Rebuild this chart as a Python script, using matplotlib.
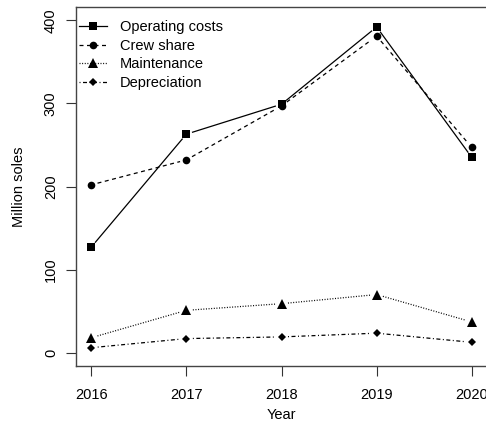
import matplotlib
matplotlib.use("Agg")
import matplotlib.pyplot as plt
import numpy as np
from matplotlib.lines import Line2D

# cost components per year, million soles
years = [2016, 2017, 2018, 2019, 2020]
operating_costs = [127, 263, 299, 392, 235]
crew_share = [202, 232, 297, 381, 247]
maintenance = [18, 51, 59, 70, 37]
depreciation = [6, 17, 19, 23.5, 12.5]

series_names = ["Operating costs", "Crew share", "Maintenance", "Depreciation"]
series_values = [operating_costs, crew_share, maintenance, depreciation]

plt.rcParams["font.family"] = ["Liberation Sans", "DejaVu Sans"]

styles = [
    dict(marker="s", ms=5.5, dashes=None),
    dict(marker="o", ms=5.5, dashes=(3.2, 2.8)),
    dict(marker="^", ms=6.5, dashes=(0.8, 1.3)),
    dict(marker="D", ms=3.8, dashes=(0.8, 2.0, 3.2, 2.0)),
]

fig = plt.figure(figsize=(4.86, 4.22), dpi=100)
ax = fig.add_axes([76 / 486, 56 / 422, 411 / 486, 359 / 422])
ax.set_xlim(2015.84, 2020.16)
ax.set_ylim(-16, 416)


def gapped_segments(x, y, gap=6.5):
    """Segments between points, trimmed near each point (like R type='b')."""
    pts = ax.transData.transform(np.column_stack([x, y]))
    segs = []
    for p, q in zip(pts[:-1], pts[1:]):
        d = q - p
        n = np.hypot(*d)
        if n <= 2 * gap:
            continue
        u = d / n
        a = ax.transData.inverted().transform(p + u * gap)
        b = ax.transData.inverted().transform(q - u * gap)
        segs.append((a, b))
    return segs


handles = []
for name, vals, st in zip(series_names, series_values, styles):
    for a, b in gapped_segments(years, vals):
        ln, = ax.plot([a[0], b[0]], [a[1], b[1]], color="black", lw=0.9)
        if st["dashes"]:
            ln.set_dashes(st["dashes"])
    ax.plot(years, vals, linestyle="none", marker=st["marker"], ms=st["ms"],
            color="black", mec="black", mew=0)
    h = Line2D([], [], color="black", lw=0.9, marker=st["marker"],
               ms=st["ms"], mew=0)
    if st["dashes"]:
        h.set_dashes(st["dashes"])
    handles.append(h)

ax.legend(handles, series_names, loc="upper left", frameon=False,
          fontsize=10.5, handlelength=1.9, handletextpad=0.9,
          labelspacing=0.32, borderaxespad=0.0,
          bbox_to_anchor=(-0.006, 0.98))

ax.set_xticks(years)
ax.set_yticks([0, 100, 200, 300, 400])
ax.tick_params(axis="both", direction="out", length=7, width=0.8,
               color="#333333", labelsize=10.5, pad=9)
ax.tick_params(axis="y", labelrotation=90, pad=6)
for lab in ax.get_yticklabels():
    lab.set_va("center")
for s in ax.spines.values():
    s.set_color("#444444")
    s.set_linewidth(1.0)

ax.set_xlabel("Year", fontsize=10.5, labelpad=4)
ax.set_ylabel("Million soles", fontsize=10.5, labelpad=13)

fig.savefig("out.png", dpi=100)
